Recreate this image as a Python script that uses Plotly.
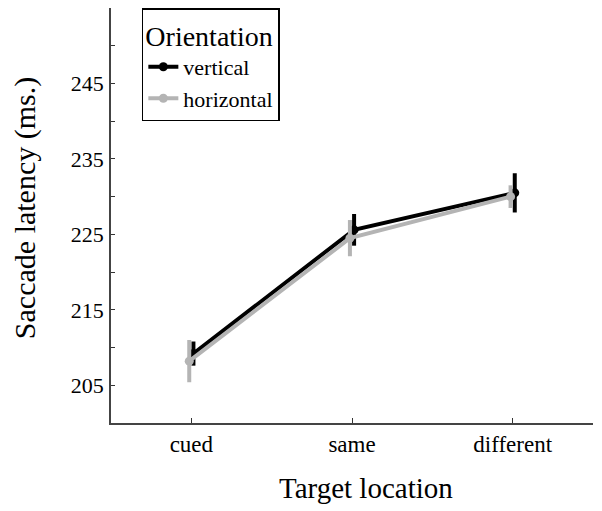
import plotly.graph_objects as go

# data
locations = ["cued", "same", "different"]
vertical_mean = [209.2, 225.6, 230.5]
vertical_err = [1.6, 2.1, 2.6]
horizontal_mean = [208.2, 224.5, 230.0]
horizontal_err = [2.8, 2.4, 1.5]
ytick_vals = [205, 210, 215, 220, 225, 230, 235, 240, 245, 250]
ytick_text = ["205", "", "215", "", "225", "", "235", "", "245", ""]

FONT = "Liberation Serif"
BLACK = "#000000"
GREY = "#b4b4b4"
dodge = 0.013

xpos = list(range(len(locations)))

fig = go.Figure()

series = [
    ("vertical", vertical_mean, vertical_err, BLACK, dodge),
    ("horizontal", horizontal_mean, horizontal_err, GREY, -dodge),
]
for name, mean, err, color, off in series:
    fig.add_trace(go.Scatter(
        x=[p + off for p in xpos],
        y=mean,
        name=name,
        mode="lines+markers",
        line=dict(color=color, width=4),
        marker=dict(color=color, size=9, symbol="circle"),
        error_y=dict(type="data", array=err, visible=True,
                     color=color, thickness=4, width=0),
    ))

# page body has an 8px margin, so the figure is shrunk by that much
fig.update_layout(
    width=594, height=503,
    margin=dict(l=103, r=9, t=0, b=88),
    paper_bgcolor="white",
    plot_bgcolor="white",
    font=dict(family=FONT, color="black", size=22),
    showlegend=True,
    legend=dict(
        title=dict(text="Orientation", font=dict(size=28, family=FONT)),
        font=dict(size=22, family=FONT),
        x=0.064, y=1, xanchor="left", yanchor="top",
        bordercolor="black", borderwidth=1.5,
        bgcolor="white",
        tracegroupgap=0,
        itemwidth=30,
    ),
    xaxis=dict(
        range=[-0.5, 2.5],
        tickvals=xpos,
        ticktext=locations,
        ticks="inside", ticklen=5, tickwidth=1.2, tickcolor="#333",
        showline=True, linecolor="#444", linewidth=1.5,
        showgrid=False, zeroline=False,
        tickfont=dict(size=23, family=FONT),
        ticklabelstandoff=0,
    ),
    yaxis=dict(
        range=[200, 255],
        tickvals=ytick_vals,
        ticktext=ytick_text,
        ticks="inside", ticklen=4, tickwidth=1.2, tickcolor="#333",
        showline=True, linecolor="#444", linewidth=1.5,
        showgrid=False, zeroline=False,
        tickfont=dict(size=22, family=FONT),
        ticklabelstandoff=1,
    ),
    annotations=[
        dict(text="Saccade latency (ms.)", textangle=-90,
             xref="paper", yref="paper", x=-0.177, y=0.517,
             xanchor="center", yanchor="middle", showarrow=False,
             font=dict(size=30, family=FONT)),
        dict(text="Target location",
             xref="paper", yref="paper", x=0.529, y=-0.157,
             xanchor="center", yanchor="middle", showarrow=False,
             font=dict(size=29, family=FONT)),
    ],
)

fig.write_html("out.html")
